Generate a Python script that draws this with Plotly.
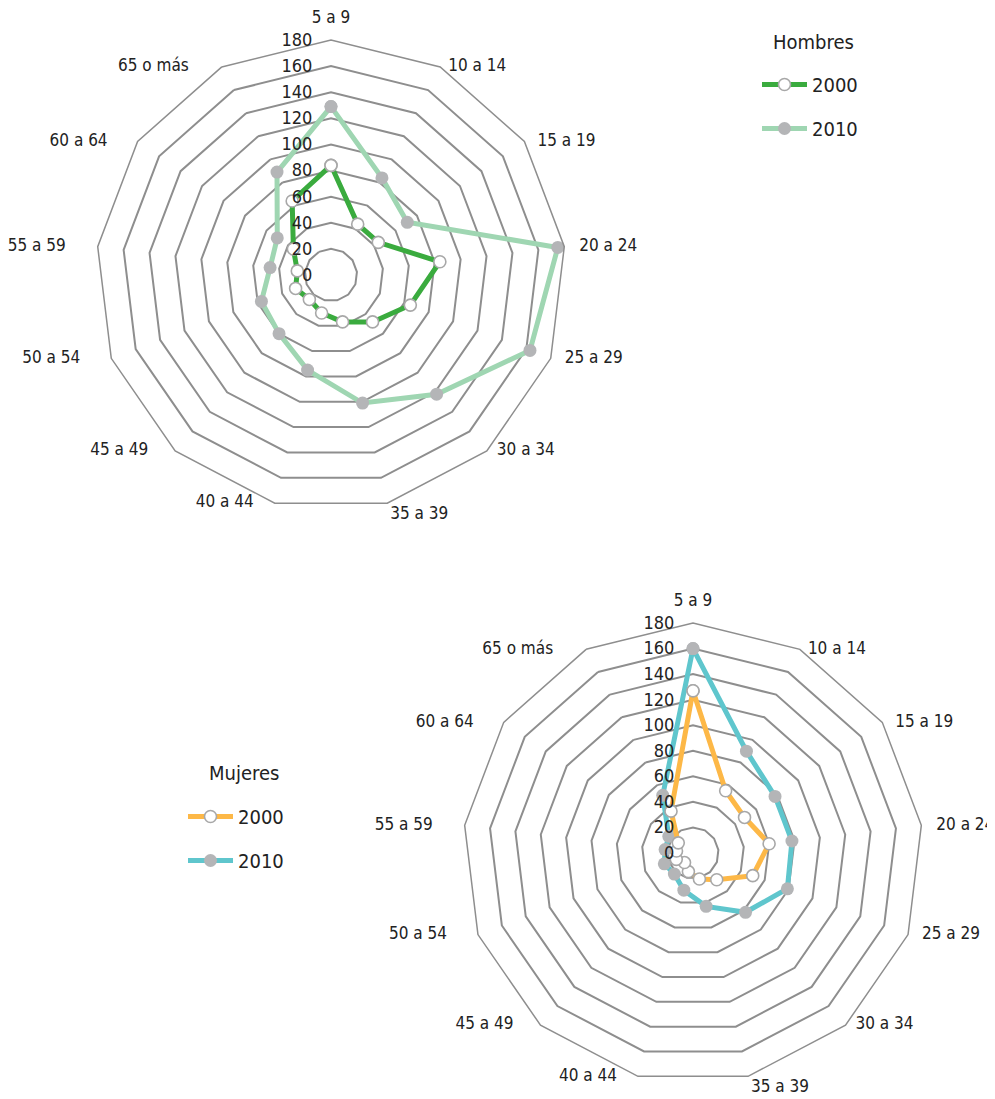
import plotly.graph_objects as go

categories = ["5 a 9", "10 a 14", "15 a 19", "20 a 24", "25 a 29", "30 a 34", "35 a 39",
              "40 a 44", "45 a 49", "50 a 54", "55 a 59", "60 a 64", "65 o más"]

hombres_2000 = [84, 44, 44, 84, 65, 48, 37, 30, 25, 29, 26, 35, 64]
hombres_2010 = [129, 84, 71, 175, 163, 122, 101, 75, 60, 57, 47, 50, 89]
mujeres_2000 = [127, 55, 49, 60, 50, 28, 21, 15, 10, 14, 13, 14, 37]
mujeres_2010 = [160, 90, 78, 78, 79, 62, 43, 30, 22, 24, 22, 23, 51]

radial_ticks = [0, 20, 40, 60, 80, 100, 120, 140, 160, 180]
RMAX = 180

FONT = "DejaVu Sans Condensed, Liberation Sans Narrow, Noto Sans, sans-serif"
TXT = "#222222"
GRID = "#8e8e8e"

W, H = 995, 1099
OFF = 8  # page body margin: page coords = figure coords + OFF
LABEL_RANGE = 190  # radial range of the (invisible) label layer

# placement of each category label around its outer vertex (style only)
LABEL_POS = ["top center", "middle right", "middle right", "middle right", "middle right",
             "middle right", "bottom right", "middle left", "middle left", "middle left",
             "middle left", "middle left", "middle left"]
LABEL_GAP = [13, 8, 13, 15, 14, 10, 3, 21, 27, 31, 32, 30, 33]


def closed(v):
    return list(v) + [v[0]]


theta = closed(categories)

fig = go.Figure()

specs = [
    # (values, name, line color, marker style, subplot, legend, rank)
    (hombres_2010, "2010", "#9fd6b2", "gray", "polar", "legend", 2),
    (hombres_2000, "2000", "#3aab3e", "white", "polar", "legend", 1),
    (mujeres_2010, "2010", "#5fc6cd", "gray", "polar2", "legend2", 2),
    (mujeres_2000, "2000", "#fdb847", "white", "polar2", "legend2", 1),
]

for vals, name, col, mstyle, sp, lg, rank in specs:
    if mstyle == "white":
        marker = dict(size=12, color="white", line=dict(color="#a8a8a8", width=1.6))
    else:
        marker = dict(size=13, color="#b4b5b7", line=dict(width=0))
    fig.add_trace(go.Scatterpolar(
        r=closed(vals), theta=theta, mode="lines+markers", name=name,
        line=dict(color=col, width=5), marker=marker,
        subplot=sp, legend=lg, legendrank=rank, legendgroup=sp + name,
    ))

# category labels at the outer vertices, on an invisible label layer
for lab_sp in ["polar3", "polar4"]:
    fig.add_trace(go.Scatterpolar(
        r=[RMAX] * len(categories), theta=categories, mode="markers+text",
        text=categories, textposition=LABEL_POS,
        textfont=dict(family=FONT, size=17, color=TXT),
        marker=dict(size=[1.6 * (g - 1) for g in LABEL_GAP], opacity=0),
        cliponaxis=False, showlegend=False, hoverinfo="skip", subplot=lab_sp,
    ))


def domain(cx, cy, R):
    # cx, cy, R given in page pixels
    fx, fy = cx - OFF, cy - OFF
    return dict(x=[(fx - R) / W, (fx + R) / W], y=[1 - (fy + R) / H, 1 - (fy - R) / H])


def angular(show_line):
    return dict(
        type="category", categoryorder="array", categoryarray=categories,
        rotation=90, direction="clockwise",
        showgrid=False, showline=show_line, linecolor=GRID, linewidth=1.5,
        ticks="", showticklabels=False,
    )


def data_polar(cx, cy, R):
    return dict(
        domain=domain(cx, cy, R), gridshape="linear", bgcolor="rgba(0,0,0,0)",
        angularaxis=angular(True),
        radialaxis=dict(
            range=[0, RMAX], tickvals=radial_ticks,
            ticktext=[f"{v}\u00a0\u00a0\u00a0" for v in radial_ticks],
            angle=90, tickangle=90, side="counterclockwise",
            showticklabels=True, showline=False, ticks="",
            gridcolor=GRID, gridwidth=1.5,
            tickfont=dict(family=FONT, size=18, color=TXT),
        ),
    )


def label_polar(cx, cy, R):
    return dict(
        domain=domain(cx, cy, R * LABEL_RANGE / RMAX), gridshape="linear",
        bgcolor="rgba(0,0,0,0)",
        angularaxis=angular(False),
        radialaxis=dict(visible=False, range=[0, LABEL_RANGE]),
    )


TOP = (331, 275, 235)
BOT = (693, 853, 230)

legend_common = dict(
    xanchor="left", yanchor="top", bgcolor="rgba(0,0,0,0)",
    font=dict(family=FONT, size=20, color=TXT), itemwidth=45,
    tracegroupgap=15, traceorder="grouped",
)

fig.update_layout(
    width=W, height=H,
    margin=dict(l=0, r=0, t=0, b=0),
    paper_bgcolor="white", plot_bgcolor="white",
    font=dict(family=FONT, color=TXT),
    polar=data_polar(*TOP),
    polar2=data_polar(*BOT),
    polar3=label_polar(*TOP),
    polar4=label_polar(*BOT),
    legend=dict(x=(757 - OFF) / W, y=1 - (65 - OFF) / H, **legend_common),
    legend2=dict(x=(183 - OFF) / W, y=1 - (797 - OFF) / H, **legend_common),
    annotations=[
        dict(text="Hombres", x=(856 - OFF) / W, y=1 - (42 - OFF) / H,
             xref="paper", yref="paper", xanchor="right", yanchor="middle",
             showarrow=False, font=dict(family=FONT, size=20, color=TXT)),
        dict(text="Mujeres", x=(281 - OFF) / W, y=1 - (773 - OFF) / H,
             xref="paper", yref="paper", xanchor="right", yanchor="middle",
             showarrow=False, font=dict(family=FONT, size=20, color=TXT)),
    ],
)

fig.write_html("out.html")
